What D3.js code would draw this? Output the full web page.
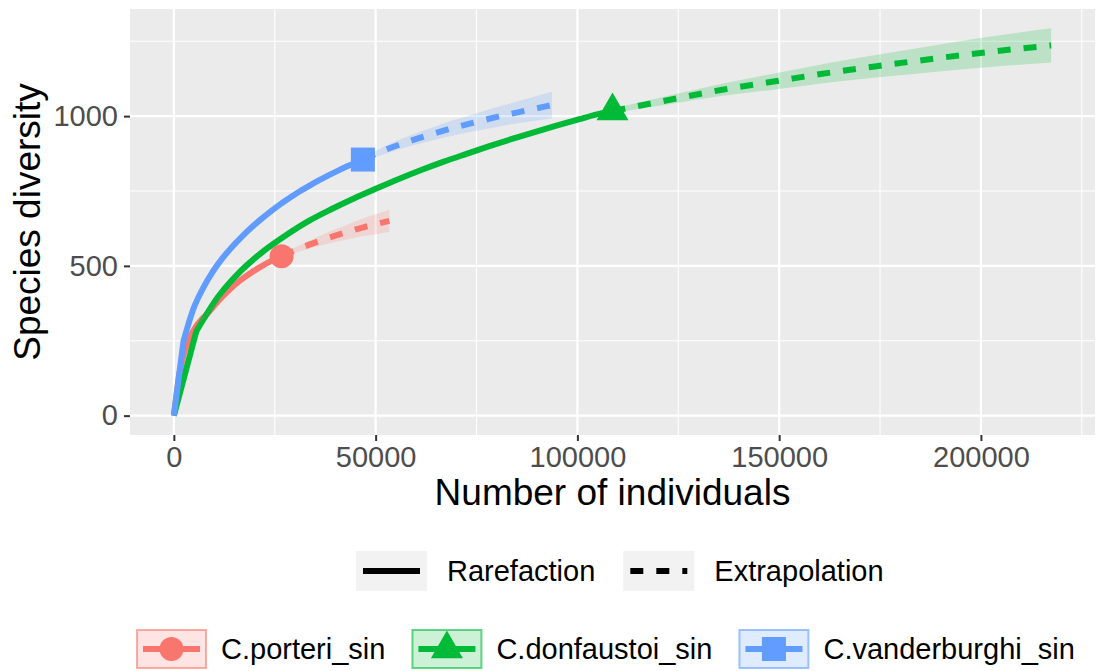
<!DOCTYPE html>
<meta charset="utf-8">
<script src="https://d3js.org/d3.v7.min.js"></script>
<style>
  body { margin: 0; background: #fff; }
</style>
<body><div id="draw"></div></body>
<script>
  // ---- data ----
  var groups = ["C.porteri_sin", "C.donfaustoi_sin", "C.vanderburghi_sin"];
  var colors = ["#F8766D", "#00BA38", "#619CFF"];
  var shapes = ["circle", "triangle", "square"];
  var methods = ["Rarefaction", "Extrapolation"];

  var xTicks = [0, 50000, 100000, 150000, 200000];
  var yTicks = [0, 500, 1000];

  // C.porteri_sin
  var porteriRareM = [0, 1340, 2670, 4010, 5340, 6680, 8010, 10680, 13350, 16020, 18690, 21360, 24030, 26700];
  var porteriRareS = [0, 140, 215, 262, 295, 318, 336, 378, 415, 447, 473, 496, 516, 532];
  var porteriRareCI = [0, 2, 3, 3, 4, 4, 4, 4, 5, 5, 5, 5, 5, 5];
  var porteriExtM = [26700, 30000, 33400, 36700, 40000, 43400, 46700, 50000, 53400];
  var porteriExtS = [532, 552, 570, 586, 601, 615, 628, 639, 650];
  var porteriExtCI = [5, 9, 13, 17, 21, 25, 29, 33, 37];

  // C.donfaustoi_sin
  var donfaustoiRareM = [0, 5570, 11150, 16720, 22300, 27870, 33440, 39000, 44600, 50170, 55740,
                         61300, 66900, 72500, 78000, 83600, 89200, 94800, 100300, 105900, 108700];
  var donfaustoiRareS = [0, 282, 400, 485, 550, 603, 650, 689, 725, 758, 790,
                         820, 848, 874, 899, 923, 946, 968, 989, 1009, 1017];
  var donfaustoiRareCI = [0, 3, 4, 5, 5, 6, 6, 6, 7, 7, 7, 7, 7, 8, 8, 8, 8, 8, 8, 8, 8];
  var donfaustoiExtM = [108700, 122300, 135900, 149400, 163000, 176600, 190200, 203800, 217400];
  var donfaustoiExtS = [1017, 1053, 1088, 1117, 1146, 1171, 1195, 1217, 1236];
  var donfaustoiExtCI = [8, 14, 20, 27, 33, 39, 45, 51, 57];

  // C.vanderburghi_sin
  var vanderRareM = [0, 2400, 4800, 7210, 9610, 12010, 14410, 16810, 19220, 21620, 24020,
                     26420, 28820, 31230, 33630, 36030, 38430, 40830, 43240, 45640, 46840];
  var vanderRareS = [0, 250, 355, 425, 480, 525, 563, 597, 628, 656, 682,
                     706, 728, 749, 768, 786, 803, 819, 834, 848, 855];
  var vanderRareCI = [0, 3, 4, 4, 5, 5, 6, 6, 6, 7, 7, 7, 7, 7, 8, 8, 8, 8, 8, 8, 8];
  var vanderExtM = [46840, 52700, 58500, 64400, 70200, 76000, 81900, 87800, 93680];
  var vanderExtS = [855, 889, 917, 942, 964, 984, 1003, 1020, 1037];
  var vanderExtCI = [8, 13, 18, 22, 26, 30, 34, 39, 44];

  // ---- build series table ----
  function zip(m, s, ci) {
    return m.map(function(d, i) { return {m: d, s: s[i], lo: s[i] - ci[i], hi: s[i] + ci[i]}; });
  }
  var series = [
    {rare: zip(porteriRareM, porteriRareS, porteriRareCI), ext: zip(porteriExtM, porteriExtS, porteriExtCI)},
    {rare: zip(donfaustoiRareM, donfaustoiRareS, donfaustoiRareCI), ext: zip(donfaustoiExtM, donfaustoiExtS, donfaustoiExtCI)},
    {rare: zip(vanderRareM, vanderRareS, vanderRareCI), ext: zip(vanderExtM, vanderExtS, vanderExtCI)}
  ];
  series.forEach(function(d, i) {
    d.name = groups[i]; d.color = colors[i]; d.shape = shapes[i];
    d.ref = d.rare[d.rare.length - 1];
  });

  var width = 1108, height = 671;
  var panel = {left: 130, right: 1095, top: 9, bottom: 435};
  var font = "'Liberation Sans', Arial, Helvetica, sans-serif";

  var allPts = [];
  series.forEach(function(d) { allPts = allPts.concat(d.rare, d.ext); });
  var xMax = d3.max(allPts, function(d) { return d.m; });
  var yMax = d3.max(allPts, function(d) { return d.hi; });
  var xPad = xMax * 0.05, yPad = yMax * 0.05;

  var x = d3.scaleLinear().domain([-xPad, xMax + xPad]).range([panel.left, panel.right]);
  var y = d3.scaleLinear().domain([-yPad, yMax + yPad]).range([panel.bottom, panel.top]);

  var svg = d3.select("#draw").append("svg")
    .attr("width", width).attr("height", height)
    .style("font-family", font);

  svg.append("rect").attr("width", width).attr("height", height).attr("fill", "#fff");

  // panel background + grid
  svg.append("rect")
    .attr("x", panel.left).attr("y", panel.top)
    .attr("width", panel.right - panel.left).attr("height", panel.bottom - panel.top)
    .attr("fill", "#EBEBEB");

  var xMinor = d3.range(25000, x.domain()[1], 50000);
  var yMinor = d3.range(250, y.domain()[1], 500);

  var grid = svg.append("g");
  grid.selectAll(".xminor").data(xMinor).enter().append("line")
    .attr("x1", x).attr("x2", x).attr("y1", panel.top).attr("y2", panel.bottom)
    .attr("stroke", "#fff").attr("stroke-width", 1.1);
  grid.selectAll(".yminor").data(yMinor).enter().append("line")
    .attr("y1", y).attr("y2", y).attr("x1", panel.left).attr("x2", panel.right)
    .attr("stroke", "#fff").attr("stroke-width", 1.1);
  grid.selectAll(".xmajor").data(xTicks).enter().append("line")
    .attr("x1", x).attr("x2", x).attr("y1", panel.top).attr("y2", panel.bottom)
    .attr("stroke", "#fff").attr("stroke-width", 2.2);
  grid.selectAll(".ymajor").data(yTicks).enter().append("line")
    .attr("y1", y).attr("y2", y).attr("x1", panel.left).attr("x2", panel.right)
    .attr("stroke", "#fff").attr("stroke-width", 2.2);

  // axes
  var xAxis = svg.append("g")
    .attr("transform", "translate(0," + panel.bottom + ")")
    .call(d3.axisBottom(x).tickValues(xTicks).tickSize(6).tickPadding(6).tickFormat(d3.format("d")));
  var yAxis = svg.append("g")
    .attr("transform", "translate(" + panel.left + ",0)")
    .call(d3.axisLeft(y).tickValues(yTicks).tickSize(6).tickPadding(6).tickFormat(d3.format("d")));
  [xAxis, yAxis].forEach(function(a) {
    a.select(".domain").remove();
    a.selectAll(".tick line").attr("stroke", "#333").attr("stroke-width", 2);
    a.selectAll(".tick text").attr("fill", "#4D4D4D").style("font-size", "29px").style("font-family", font);
  });
  xAxis.selectAll(".tick text").attr("dy", "0.71em").attr("y", 11);
  yAxis.selectAll(".tick text").attr("x", -12);

  svg.append("text")
    .attr("x", (panel.left + panel.right) / 2).attr("y", 505)
    .attr("text-anchor", "middle").style("font-size", "37px").attr("fill", "#000")
    .text("Number of individuals");
  svg.append("text")
    .attr("transform", "translate(40," + (panel.top + panel.bottom) / 2 + ") rotate(-90)")
    .attr("text-anchor", "middle").style("font-size", "37px").attr("fill", "#000")
    .text("Species diversity");

  // marks
  var plot = svg.append("g");
  var smooth = d3.line().x(function(d) { return x(d.m); }).y(function(d) { return y(d.s); })
    .curve(d3.curveMonotoneX);
  // straight first step from the origin, smooth through the remaining knots
  function rareLine(pts) {
    return "M" + x(pts[0].m) + "," + y(pts[0].s) + smooth(pts.slice(1)).replace(/^M/, "L");
  }
  var area = d3.area().x(function(d) { return x(d.m); })
    .y0(function(d) { return y(d.lo); }).y1(function(d) { return y(d.hi); })
    .curve(d3.curveMonotoneX);

  function shapePath(shape) {
    if (shape === "circle") return d3.symbol(d3.symbolCircle, Math.PI * 12 * 12)();
    if (shape === "square") return "M-12,-12H12V12H-12Z";
    return "M0,-18.5L16,9.2L-16,9.2Z";
  }

  // points
  plot.selectAll(".pt").data(series).enter().append("path")
    .attr("transform", function(d) { return "translate(" + x(d.ref.m) + "," + y(d.ref.s) + ")"; })
    .attr("d", function(d) { return shapePath(d.shape); })
    .attr("fill", function(d) { return d.color; });

  // lines
  series.forEach(function(d) {
    plot.append("path").attr("d", rareLine(d.rare))
      .attr("fill", "none").attr("stroke", d.color).attr("stroke-width", 6)
      .attr("stroke-linejoin", "round");
    plot.append("path").datum(d.ext).attr("d", smooth)
      .attr("fill", "none").attr("stroke", d.color).attr("stroke-width", 6)
      .attr("stroke-dasharray", "13,13");
  });

  // ribbons
  series.forEach(function(d) {
    plot.append("path").datum(d.rare.slice(1).concat(d.ext.slice(1))).attr("d", area)
      .attr("fill", d.color).attr("fill-opacity", 0.2);
  });

  // legend: method
  var leg1 = svg.append("g").style("font-size", "29px");
  var lx = 356, ly = 551, kw = 71, kh = 40;
  methods.forEach(function(m, i) {
    var g = leg1.append("g").attr("transform", "translate(" + lx + "," + ly + ")");
    g.append("rect").attr("width", kw).attr("height", kh).attr("fill", "#F2F2F2");
    g.append("line").attr("x1", 7).attr("x2", kw - 7).attr("y1", kh / 2).attr("y2", kh / 2)
      .attr("stroke", "#000").attr("stroke-width", 6)
      .attr("stroke-dasharray", i === 1 ? "13,13" : null);
    var t = g.append("text").attr("x", kw + 20).attr("y", kh / 2).attr("dy", "0.35em").text(m);
    lx += kw + 20 + t.node().getComputedTextLength() + 28;
  });

  // legend: groups
  var leg2 = svg.append("g").style("font-size", "29px");
  lx = 136; ly = 629;
  series.forEach(function(d) {
    var g = leg2.append("g").attr("transform", "translate(" + lx + "," + ly + ")");
    g.append("rect").attr("x", 1).attr("y", 1).attr("width", kw - 2).attr("height", kh - 2)
      .attr("fill", d.color).attr("fill-opacity", 0.2)
      .attr("stroke", d.color).attr("stroke-opacity", 0.6).attr("stroke-width", 2);
    g.append("line").attr("x1", 7).attr("x2", kw - 7).attr("y1", kh / 2).attr("y2", kh / 2)
      .attr("stroke", d.color).attr("stroke-width", 6);
    g.append("path").attr("transform", "translate(" + kw / 2 + "," + kh / 2 + ")")
      .attr("d", shapePath(d.shape)).attr("fill", d.color);
    var t = g.append("text").attr("x", kw + 14).attr("y", kh / 2).attr("dy", "0.35em").text(d.name);
    lx += kw + 14 + t.node().getComputedTextLength() + 26;
  });
</script>
